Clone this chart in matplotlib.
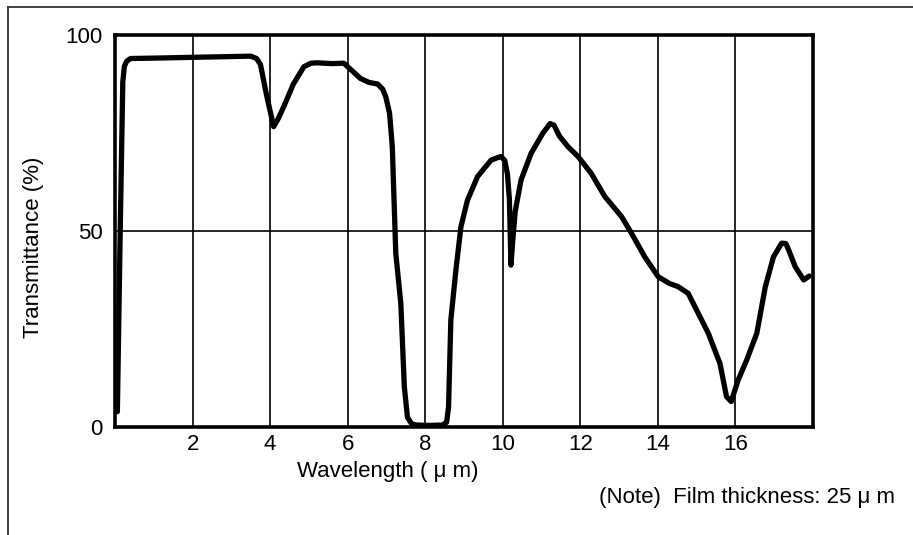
import matplotlib
matplotlib.use("Agg")
import matplotlib.pyplot as plt
from matplotlib.lines import Line2D

plt.rcParams['font.family'] = ['Liberation Sans', 'DejaVu Sans']

# transmittance curve
wavelength = [0.06, 0.13, 0.2, 0.24, 0.3, 0.4, 1.0, 2.0, 3.0, 3.5, 3.65, 3.75, 3.9, 4.09,
              4.2, 4.35, 4.6, 4.87, 5.05, 5.21, 5.6, 5.9, 6.1, 6.33, 6.55, 6.77, 6.9, 6.98,
              7.08, 7.15, 7.24, 7.37, 7.46, 7.54, 7.65, 7.76, 8.1, 8.45, 8.55, 8.6, 8.66,
              8.79, 8.92, 9.09, 9.35, 9.7, 9.95, 10.05, 10.12, 10.17, 10.21, 10.26, 10.32,
              10.47, 10.73, 11.03, 11.22, 11.32, 11.46, 11.68, 11.94, 12.28, 12.63, 13.06,
              13.32, 13.66, 14.01, 14.3, 14.52, 14.78, 15.04, 15.3, 15.6, 15.77, 15.89,
              16.07, 16.29, 16.55, 16.77, 16.98, 17.19, 17.3, 17.37, 17.54, 17.76, 17.9]
transmittance = [3.9, 48.0, 88.0, 92.0, 93.3, 94.0, 94.1, 94.3, 94.5, 94.6, 94.0, 92.5,
                 85.0, 76.6, 78.5, 81.7, 87.5, 91.9, 92.8, 92.9, 92.7, 92.8, 91.0, 88.9, 87.9,
                 87.5, 86.2, 84.3, 80.0, 71.5, 44.3, 31.5, 10.3, 2.5, 0.8, 0.5, 0.4, 0.5, 1.2,
                 5.0, 27.3, 40.0, 51.1, 57.9, 63.9, 68.1, 69.0, 68.0, 64.5, 58.0, 41.3, 48.0,
                 55.0, 63.0, 69.8, 74.9, 77.4, 77.0, 74.2, 71.5, 69.0, 64.7, 58.8, 53.7, 49.4,
                 43.4, 38.3, 36.6, 35.8, 34.1, 29.0, 23.9, 16.2, 7.7, 6.5, 12.0, 17.1, 23.9,
                 35.8, 43.4, 46.9, 46.8, 45.2, 40.9, 37.5, 38.5]

x_ticks = [2, 4, 6, 8, 10, 12, 14, 16]
y_ticks = [0, 50, 100]

fig = plt.figure(figsize=(9.13, 5.35), dpi=100)
ax = fig.add_axes([0.126, 0.2019, 0.7645, 0.7327])

ax.plot(wavelength, transmittance, color='black', lw=3.8, solid_joinstyle='round',
        solid_capstyle='round', zorder=3)

ax.set_xlim(0, 18)
ax.set_ylim(0, 100)
ax.set_xticks(x_ticks)
ax.set_yticks(y_ticks)
ax.tick_params(length=0, labelsize=16, pad=5)
ax.tick_params(axis='y', pad=9)
ax.grid(True, color='black', lw=1.2)
for s in ax.spines.values():
    s.set_linewidth(2.6)

fig.text(297 / 913, 1 - 471 / 535, 'Wavelength ( \u03bc m)', fontsize=16, ha='left', va='center')
fig.text(34 / 913, 1 - 247 / 535, 'Transmittance (%)', fontsize=16, rotation=90,
         ha='center', va='center')
fig.text(895 / 913, 1 - 497 / 535, '(Note)  Film thickness: 25 \u03bc m', fontsize=16,
         ha='right', va='center')

# outer frame (top and left edges)
fig.add_artist(Line2D([8 / 913, 8 / 913], [0, 1 - 7 / 535], transform=fig.transFigure,
                      color='#333333', lw=1.3))
fig.add_artist(Line2D([8 / 913, 1], [1 - 7 / 535, 1 - 7 / 535], transform=fig.transFigure,
                      color='#333333', lw=1.3))

fig.savefig('out.png', dpi=100)
